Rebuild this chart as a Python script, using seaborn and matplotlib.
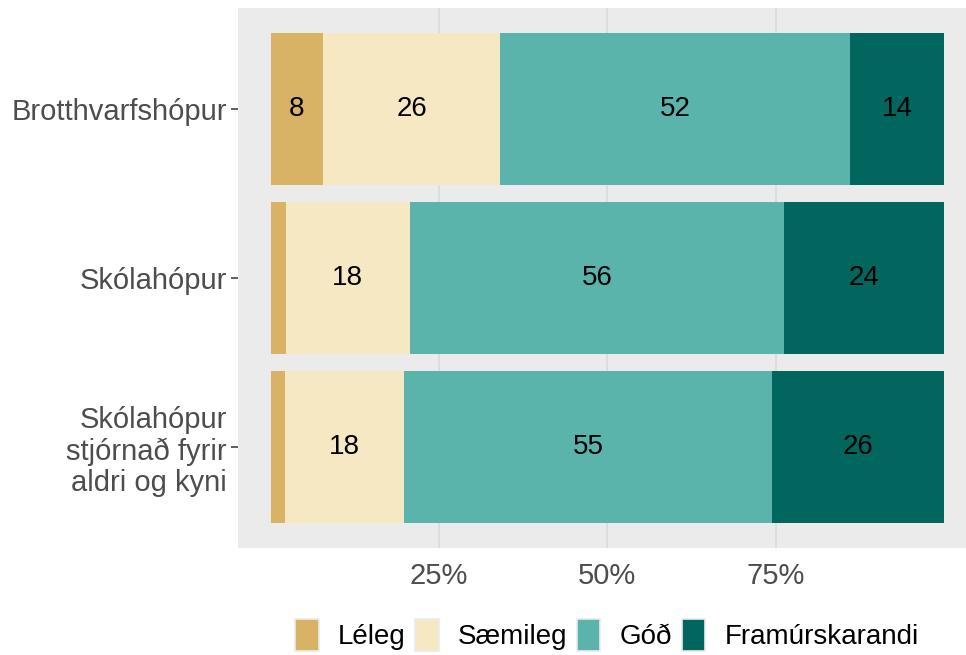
import numpy as np
import pandas as pd
import matplotlib
matplotlib.use("Agg")
import matplotlib.pyplot as plt
from matplotlib.patches import Patch
import seaborn as sns

# ==========================================
# DATA
# ==========================================
groups = ["Brotthvarfshópur", "Skólahópur", "Skólahópur\nstjórnað fyrir\naldri og kyni"]
levels = ["Léleg", "Sæmileg", "Góð", "Framúrskarandi"]
leleg = [7.7, 2.2, 2.1]
saemileg = [26.4, 18.4, 17.7]
god = [52.0, 55.7, 54.6]
framur = [13.9, 23.7, 25.6]
colors = ["#D8B365", "#F6E8C3", "#5AB4AC", "#01665E"]
x_ticks = [25, 50, 75]
x_ticklabels = ["25%", "50%", "75%"]

# ==========================================
# PREP
# ==========================================
df = pd.DataFrame({"group": groups, "Léleg": leleg, "Sæmileg": saemileg,
                   "Góð": god, "Framúrskarandi": framur})
cum = df[levels].cumsum(axis=1)

sns.set_style("white")
plt.rcParams["font.family"] = ["Liberation Sans", "DejaVu Sans"]

fig = plt.figure(figsize=(9.66, 6.55), dpi=100)
ax = fig.add_axes([238 / 966, 107 / 655, 728 / 966, 540 / 655])
ax.set_facecolor("#EBEBEB")

# draw from the outermost segment inwards so each bar covers the next
for lvl, col in reversed(list(zip(levels, colors))):
    sns.barplot(data=cum.assign(group=groups), x=lvl, y="group", color=col,
                width=0.9, orient="h", ax=ax, saturation=1, zorder=2,
                linewidth=0, edgecolor=col)

# segment labels
for i, g in enumerate(groups):
    start = 0
    for lvl in levels:
        v = df.loc[i, lvl]
        if v >= 5:
            ax.text(start + v / 2, i, f"{round(v):d}", ha="center", va="center",
                    fontsize=20, color="black", zorder=3)
        start += v

ax.set_xlim(-4.9, 103.3)
ax.set_ylim(2.6, -0.6)
ax.set_xticks(x_ticks)
ax.set_xticklabels(x_ticklabels)
ax.xaxis.grid(True, color="#D9D9D9", linewidth=1.1, zorder=0)
ax.yaxis.grid(False)
ax.set_axisbelow(True)
ax.set_xlabel("")
ax.set_ylabel("")
for s in ax.spines.values():
    s.set_visible(False)
ax.tick_params(axis="x", length=0, pad=10, labelsize=21, labelcolor="#4D4D4D")
ax.tick_params(axis="y", length=5, width=1.1, color="#333333", pad=3,
               labelsize=21, labelcolor="#4D4D4D", left=True)
for t in ax.get_yticklabels():
    t.set_linespacing(1.15)

handles = [Patch(facecolor=c, edgecolor="#EBEBEB", linewidth=1.2, label=l)
           for l, c in zip(levels, colors)]
fig.legend(handles=handles, loc="center", bbox_to_anchor=(607 / 966, 1 - 635 / 655),
           ncol=4, frameon=False, fontsize=20, handlelength=0.83, handleheight=1.45,
           handletextpad=0.7, columnspacing=0.35, labelcolor="black")

fig.savefig("out.png", dpi=100)
